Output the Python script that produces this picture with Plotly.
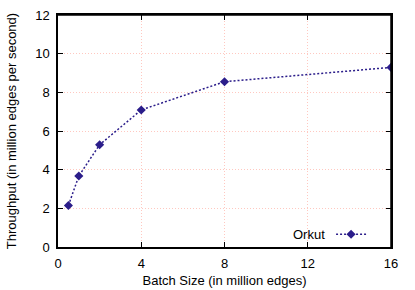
import plotly.graph_objects as go

batch_size = [0.5, 1, 2, 4, 8, 16]
throughput = [2.15, 3.67, 5.29, 7.09, 8.55, 9.29]
series_name = "Orkut"
x_ticks = [0, 4, 8, 12, 16]
y_ticks = [0, 2, 4, 6, 8, 10, 12]

color = "#2b1d8a"
font = "Liberation Sans, Arial, sans-serif"

fig = go.Figure()
fig.add_trace(go.Scatter(
    x=batch_size, y=throughput, mode="lines+markers",
    name=" ",
    line=dict(color=color, width=1.5, dash="2px,2px"),
    marker=dict(symbol="diamond", size=7, color=color),
))

axis_common = dict(
    showline=True, linecolor="black", linewidth=1.5, mirror="allticks",
    ticks="inside", ticklen=5, tickcolor="black", tickwidth=1.2,
    showgrid=True, gridcolor="#ffc8c0", griddash="1px,2px", gridwidth=1,
    zeroline=False, automargin=False,
    tickfont=dict(size=13, color="black", family=font),
)

fig.update_xaxes(range=[0, 16], tickvals=x_ticks, ticklabelstandoff=4,
                 title=dict(text="Batch Size (in million edges)", font=dict(size=13, color="black", family=font), standoff=6),
                 **axis_common)
fig.update_yaxes(range=[0, 12], tickvals=y_ticks, ticklabelstandoff=4,
                 title=dict(text="Throughput (in million edges per second)", font=dict(size=13, color="black", family=font), standoff=16),
                 **axis_common)

fig.add_annotation(text=series_name, xref="paper", yref="paper", x=0.808, y=0.055,
                   xanchor="right", yanchor="middle", showarrow=False,
                   font=dict(size=13, color="black", family=font))

# plot frame (top and right edges)
fig.add_shape(type="line", xref="x domain", yref="y domain", x0=0, y0=1, x1=1, y1=1,
              line=dict(color="black", width=1.5), layer="above")
fig.add_shape(type="line", xref="x domain", yref="y domain", x0=1, y0=0, x1=1, y1=1,
              line=dict(color="black", width=1.5), layer="above")

fig.update_layout(
    width=415, height=290,
    margin=dict(l=58, r=24, t=15, b=43),
    paper_bgcolor="white", plot_bgcolor="white",
    showlegend=True,
    legend=dict(x=0.82, y=0.055, xanchor="left", yanchor="middle",
                bgcolor="rgba(0,0,0,0)", font=dict(size=13, family=font),
                itemwidth=30, tracegroupgap=0),
    font=dict(family=font, color="black"),
)

fig.write_html("out.html", config={"displayModeBar": False},
               post_script="document.body.style.margin='0';document.body.style.overflow='hidden';")
